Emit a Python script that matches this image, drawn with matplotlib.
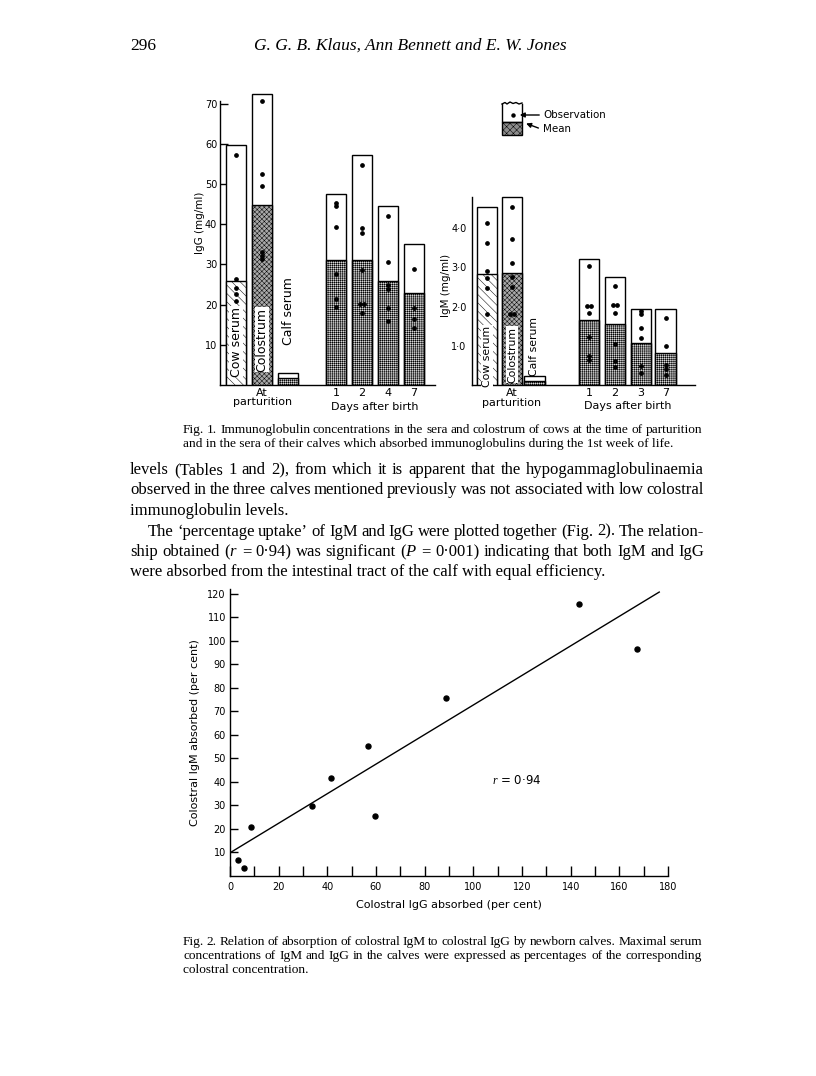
import numpy as np
import matplotlib
matplotlib.use("Agg")
import matplotlib.pyplot as plt
from matplotlib.patches import Rectangle
from matplotlib.ticker import MultipleLocator

# -------------------------------
# Data
# -------------------------------
igg_top = [59.7, 72.4, 3.0, 47.6, 57.3, 44.6, 35.0]
igg_mean = [25.8, 44.8, 1.8, 31.0, 31.1, 25.9, 22.9]
igg_obs = [
    [57.3, 26.4, 24.2, 22.6, 20.8],
    [70.6, 52.4, 49.6, 33.0, 32.2, 31.4],
    [],
    [45.3, 44.6, 39.4, 27.7, 21.5, 19.5],
    [54.8, 39.0, 37.7, 28.7, 20.1, 20.1, 17.9],
    [42.1, 30.6, 24.9, 23.8, 19.1, 15.8],
    [28.9, 19.1, 16.5, 14.3],
]
igg_days = ["1", "2", "4", "7"]

igm_top = [4.54, 4.77, 0.24, 3.20, 2.74, 1.93, 1.93]
igm_mean = [2.83, 2.86, 0.12, 1.66, 1.56, 1.07, 0.81]
igm_obs = [
    [4.11, 3.62, 2.90, 2.72, 2.46, 1.81],
    [4.54, 3.71, 3.11, 2.74, 2.49, 1.81, 1.81],
    [],
    [3.03, 2.02, 2.02, 1.85, 1.24, 0.75, 0.64],
    [2.53, 2.04, 2.04, 1.85, 1.05, 0.63, 0.47],
    [1.90, 1.80, 1.45, 1.21, 0.49, 0.32],
    [1.70, 1.01, 0.51, 0.41, 0.26],
]
igm_days = ["1", "2", "3", "7"]

group_names = ["Cow serum", "Colostrum", "Calf serum"]

igg_absorbed = [3.4, 5.6, 8.8, 33.7, 41.5, 56.6, 59.5, 88.8, 143.5, 167.4]
igm_absorbed = [7.0, 3.6, 21.0, 29.8, 41.6, 55.2, 25.3, 75.7, 115.5, 96.4]
fit_x = [0.7, 176.4]
fit_y = [10.3, 120.7]

cap1 = [
    "Fig. 1. Immunoglobulin concentrations in the sera and colostrum of cows at the time of parturition",
    "and in the sera of their calves which absorbed immunoglobulins during the 1st week of life.",
]
body = [
    "levels (Tables 1 and 2), from which it is apparent that the hypogammaglobulinaemia",
    "observed in the three calves mentioned previously was not associated with low colostral",
    "immunoglobulin levels.",
    "The ‘percentage uptake’ of IgM and IgG were plotted together (Fig. 2). The relation-",
    "ship obtained ($r$ = 0·94) was significant ($P$ = 0·001) indicating that both IgM and IgG",
    "were absorbed from the intestinal tract of the calf with equal efficiency.",
]
cap2 = [
    "Fig. 2. Relation of absorption of colostral IgM to colostral IgG by newborn calves. Maximal serum",
    "concentrations of IgM and IgG in the calves were expressed as percentages of the corresponding",
    "colostral concentration.",
]

# -------------------------------
# Style
# -------------------------------
plt.rcParams["font.family"] = ["DejaVu Sans"]
plt.rcParams["hatch.linewidth"] = 0.35
plt.rcParams["axes.linewidth"] = 1.0
plt.rcParams["mathtext.fontset"] = "custom"
plt.rcParams["mathtext.it"] = "Liberation Serif:italic"
plt.rcParams["mathtext.rm"] = "Liberation Serif"

W, H = 816, 1076
fig = plt.figure(figsize=(W / 100, H / 100), dpi=100)

TICK_FS = 7
LAB_FS = 8


def px_axes(x0, y0, x1, y1):
    # pixel box (top-down y) -> figure fraction axes
    return fig.add_axes([x0 / W, 1 - y1 / H, (x1 - x0) / W, (y1 - y0) / H])


def bar_panel(ax, pos, width, tops, means, obs, days, lims, spine_top, dot_dx):
    ax.set_xlim(0, lims[0])
    ax.set_ylim(0, lims[1])
    for s in ["top", "right"]:
        ax.spines[s].set_visible(False)
    ax.spines["left"].set_bounds(0, spine_top)
    for i, (x, t, m) in enumerate(zip(pos, tops, means)):
        ax.add_patch(Rectangle((x - width / 2, 0), width, t, fc="white", ec="k", lw=1.0, zorder=2))
        if i == 0:
            ax.add_patch(Rectangle((x - width / 2, 0), width, m, fc="white", ec="k", lw=1.0,
                                   hatch="\\\\\\\\", zorder=3))
        elif i == 1:
            ax.add_patch(Rectangle((x - width / 2, 0), width, m, fc="#a8a8a8", ec="k", lw=1.0,
                                   hatch="xxxxxxx", zorder=3))
        else:
            ax.add_patch(Rectangle((x - width / 2, 0), width, m, fc="#d6d6d6", ec="k", lw=1.0,
                                   hatch="++++++++", zorder=3))
        vals = obs[i]
        for j, v in enumerate(vals):
            dup = vals.count(v)
            off = 0.0
            if dup > 1:
                k = vals[:j].count(v)
                off = (k - (dup - 1) / 2) * dot_dx
            ax.plot(x + off, v, "o", ms=2.4, color="k", zorder=5)
    ax.set_xticks(pos[1:2] + pos[3:])
    ax.set_xticklabels(["At\nparturition"] + days, fontsize=LAB_FS, linespacing=0.95)
    ax.tick_params(axis="x", length=0, pad=2)


# -------------------------------
# Fig. 1 left: IgG
# -------------------------------
pos_l = [0.62, 1.62, 2.62, 4.46, 5.46, 6.46, 7.46]
ax1 = px_axes(220, 91.5, 435, 385)
bar_panel(ax1, pos_l, 0.75, igg_top, igg_mean, igg_obs, igg_days, (8.27, 73), 70.6, 0.12)
ax1.set_yticks(range(10, 80, 10))
ax1.set_yticklabels([str(v) for v in range(10, 80, 10)], fontsize=TICK_FS)
ax1.tick_params(axis="y", direction="in", length=6, width=1.0, pad=2)
ax1.set_ylabel("IgG (mg/ml)", fontsize=7.5)
ax1.yaxis.set_label_coords(-0.072, 0.552)
ax1.text((pos_l[5] + pos_l[4]) / 2, -5.4, "Days after birth", fontsize=LAB_FS, ha="center", va="center")
ax1.text(pos_l[0], 10.8, group_names[0], rotation=90, ha="center", va="center", fontsize=9,
         zorder=6, bbox=dict(fc="white", ec="none", pad=0.5))
ax1.text(pos_l[1], 11.3, group_names[1], rotation=90, ha="center", va="center", fontsize=9,
         zorder=6, bbox=dict(fc="white", ec="none", pad=0.5))
ax1.text(pos_l[2], 18.5, group_names[2], rotation=90, ha="center", va="center", fontsize=9, zorder=6)

# -------------------------------
# Fig. 1 right: IgM
# -------------------------------
pos_r = [0.59, 1.57, 2.45, 4.59, 5.61, 6.63, 7.61]
ax2 = px_axes(472, 194.3, 695, 385.4)
bar_panel(ax2, pos_r, 0.82, igm_top, igm_mean, igm_obs, igm_days, (8.75, 4.85), 4.79, 0.14)
ax2.set_yticks([1, 2, 3, 4])
ax2.set_yticklabels(["1·0", "2·0", "3·0", "4·0"], fontsize=TICK_FS)
ax2.tick_params(axis="y", length=0, pad=4)
ax2.set_ylabel("IgM (mg/ml)", fontsize=7.5)
ax2.yaxis.set_label_coords(-0.094, 0.525)
ax2.text((pos_r[5] + pos_r[4]) / 2, -0.53, "Days after birth", fontsize=LAB_FS, ha="center", va="center")
ax2.text(pos_r[0], 0.74, group_names[0], rotation=90, ha="center", va="center", fontsize=7.8,
         zorder=6, bbox=dict(fc="white", ec="none", pad=0.5))
ax2.text(pos_r[1], 0.78, group_names[1], rotation=90, ha="center", va="center", fontsize=7.8,
         zorder=6, bbox=dict(fc="white", ec="none", pad=0.5))
ax2.text(pos_r[2], 0.98, group_names[2], rotation=90, ha="center", va="center", fontsize=7.8, zorder=6)

# -------------------------------
# Fig. 2: scatter
# -------------------------------
ax3 = px_axes(230, 589, 668, 876)
ax3.plot(igg_absorbed, igm_absorbed, "o", ms=3.6, color="k")
ax3.plot(fit_x, fit_y, color="k", lw=1.0)
ax3.set_xlim(0, 180)
ax3.set_ylim(0, 122)
for s in ["top", "right"]:
    ax3.spines[s].set_visible(False)
ax3.xaxis.set_major_locator(MultipleLocator(20))
ax3.xaxis.set_minor_locator(MultipleLocator(10))
ax3.set_yticks(range(10, 130, 10))
ax3.tick_params(axis="x", which="both", direction="in", length=7, width=1.0, labelsize=TICK_FS, pad=4)
ax3.tick_params(axis="y", direction="in", length=6, width=1.0, labelsize=TICK_FS, pad=3)
ax3.set_xlabel("Colostral IgG absorbed (per cent)", fontsize=LAB_FS, labelpad=6)
ax3.set_ylabel("Colostral IgM absorbed (per cent)", fontsize=LAB_FS, labelpad=5)
ax3.text(107.5, 40.7, "$r$ = 0·94", fontsize=8.5, ha="left", va="center")

# -------------------------------
# Page text and legend (pixel coordinates)
# -------------------------------
pg = fig.add_axes([0, 0, 1, 1], zorder=-1)
pg.set_xlim(0, W)
pg.set_ylim(H, 0)
pg.axis("off")
renderer = fig.canvas.get_renderer()
serif = "Liberation Serif"


def put_line(x0, x1, y, line, fs, justify):
    # one typeset line; justified lines get their word gaps stretched to x1
    if not justify:
        pg.text(x0, y, line, fontsize=fs, family=serif, va="center")
        return
    words = line.split(" ")
    texts = [pg.text(0, y, w, fontsize=fs, family=serif, va="center") for w in words]
    widths = [t.get_window_extent(renderer).width for t in texts]
    gap = (x1 - x0 - sum(widths)) / (len(words) - 1)
    x = x0
    for t, w in zip(texts, widths):
        t.set_x(x)
        x += w + gap


pg.text(130, 46, "296", fontsize=12.5, family=serif, va="center")
pg.text(410, 46, "G. G. B. Klaus, Ann Bennett and E. W. Jones", fontsize=12.5, family=serif,
        style="italic", ha="center", va="center")

for i, line in enumerate(cap1):
    put_line(183, 702, 430 + i * 14, line, 9.6, i == 0)

body_x = [130, 130, 130, 148, 130, 130]
body_y = [470, 490.5, 511, 531.5, 552, 572.5]
body_just = [True, True, False, True, True, False]
for line, x, y, j in zip(body, body_x, body_y, body_just):
    put_line(x, 704, y, line, 12.0, j)

for i, line in enumerate(cap2):
    put_line(183, 702, 942 + i * 14, line, 9.6, i < 2)

# legend icon
lg = fig.add_axes([0, 0, 1, 1], zorder=5)
lg.set_xlim(0, W)
lg.set_ylim(H, 0)
lg.axis("off")
lg.add_patch(Rectangle((502, 121.5), 20, 13.5, fc="#8c8c8c", ec="k", lw=1.0, hatch="xxxxx"))
lg.plot([502, 502, 522, 522], [104, 121.5, 121.5, 104], color="k", lw=1.0)
lg.plot([502, 505, 507, 510, 513, 516, 519, 522], [104, 102.5, 104, 102, 103.5, 102.5, 104, 103],
        color="k", lw=1.0)
lg.plot([513], [115], "o", ms=2.2, color="k")
lg.annotate("", xy=(517, 115), xytext=(542, 115),
            arrowprops=dict(arrowstyle="-|>", color="k", lw=1.0, mutation_scale=7))
lg.annotate("", xy=(523.5, 122.5), xytext=(541, 129),
            arrowprops=dict(arrowstyle="-|>", color="k", lw=1.0, mutation_scale=7))
lg.text(543, 114.5, "Observation", fontsize=7.4, va="center")
lg.text(543, 129, "Mean", fontsize=7.4, va="center")

fig.savefig("out.png", dpi=100, facecolor="white")
